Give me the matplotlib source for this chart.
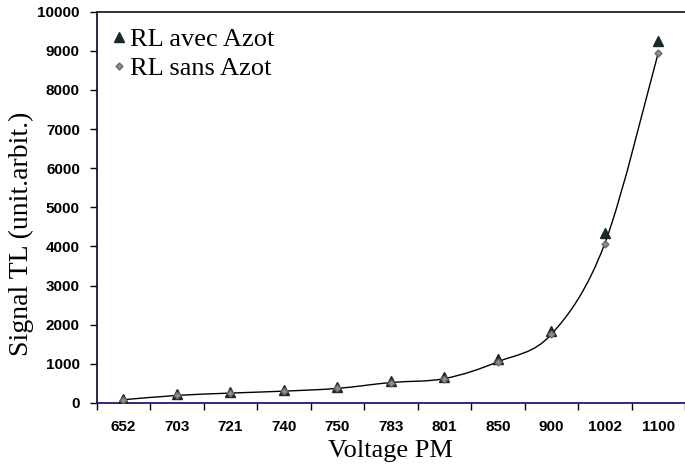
import numpy as np
import matplotlib
matplotlib.use("Agg")
import matplotlib.pyplot as plt
from matplotlib.path import Path
from matplotlib.patches import PathPatch

# Tension PM (categories) et signal TL mesuré
voltages = ["652", "703", "721", "740", "750", "783", "801", "850", "900", "1002", "1100"]
avec_azot = [110, 220, 280, 330, 400, 560, 660, 1130, 1850, 4350, 9250]
sans_azot = [80, 190, 250, 300, 370, 520, 620, 1050, 1750, 4070, 8950]
y_ticks = [0, 1000, 2000, 3000, 4000, 5000, 6000, 7000, 8000, 9000, 10000]


def smooth_path(x, y):
    # courbe lissée (Bezier type Catmull-Rom) passant par les points
    x = np.asarray(x, float)
    y = np.asarray(y, float)
    verts = [(x[0], y[0])]
    codes = [Path.MOVETO]
    n = len(x)
    for i in range(n - 1):
        p0 = np.array([x[max(i - 1, 0)], y[max(i - 1, 0)]])
        p1 = np.array([x[i], y[i]])
        p2 = np.array([x[i + 1], y[i + 1]])
        p3 = np.array([x[min(i + 2, n - 1)], y[min(i + 2, n - 1)]])
        c1 = p1 + (p2 - p0) / 6.0
        c2 = p2 - (p3 - p1) / 6.0
        verts += [tuple(c1), tuple(c2), tuple(p2)]
        codes += [Path.CURVE4] * 3
    return Path(verts, codes)


fig = plt.figure(figsize=(6.85, 4.69), dpi=100)
ax = fig.add_axes([0.141, 0.141, 0.859, 0.834])

xs = np.arange(len(voltages))

ax.add_patch(PathPatch(smooth_path(xs, sans_azot), fill=False,
                       edgecolor="black", lw=1.0, zorder=2))
ax.plot(xs, avec_azot, linestyle="none", marker="^", ms=6.5,
        color="#1b2a1e", label="RL avec Azot", zorder=3)
ax.plot(xs, sans_azot, linestyle="none", marker="D", ms=3.5,
        color="#9a8a90", markeredgecolor="#6e6468", label="RL sans Azot", zorder=4)

ax.set_xlim(-0.5, len(voltages) - 0.5)
ax.set_ylim(0, 10000)
ax.set_xticks(np.arange(len(voltages) + 1) - 0.5)
ax.set_xticklabels([])
ax.set_xticks(xs, minor=True)
ax.set_xticklabels(voltages, minor=True)
ax.set_yticks(y_ticks)
ax.set_yticklabels([str(v) for v in y_ticks])

for lab in ax.get_xticklabels(minor=True) + ax.get_yticklabels():
    lab.set_fontfamily("Liberation Sans")
    lab.set_fontweight("bold")
    lab.set_fontsize(11)

ax.tick_params(axis="x", which="major", direction="out", length=5, width=1, color="black")
ax.tick_params(axis="x", which="minor", length=0, pad=12)
ax.tick_params(axis="y", direction="out", length=5, width=1, color="black", pad=7)

ax.spines["right"].set_visible(False)
ax.spines["top"].set_color("#1a2a1a")
ax.spines["left"].set_color("#101a40")
ax.spines["bottom"].set_color("#1a1a7a")
for s in ("top", "left", "bottom"):
    ax.spines[s].set_linewidth(1.3)

ax.set_xlabel("Voltage PM", family="Liberation Serif", fontsize=19, labelpad=5)
ax.set_ylabel("Signal TL (unit.arbit.)", family="Liberation Serif", fontsize=20)
ax.yaxis.set_label_coords(-0.106, 0.432)

ax.legend(loc="upper left", frameon=False, prop={"family": "Liberation Serif", "size": 19},
          handlelength=0.5, handletextpad=0.15, labelspacing=0.2,
          borderaxespad=0.2, bbox_to_anchor=(0.0, 1.0))

fig.savefig("out.png", dpi=100, facecolor="white")
